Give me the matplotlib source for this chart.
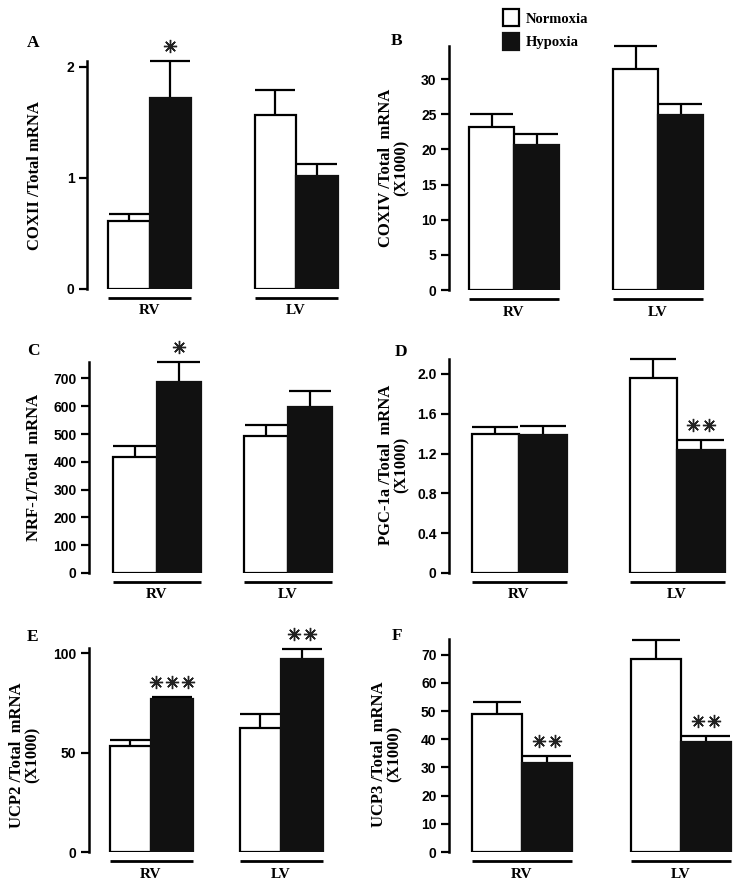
import numpy as np
import matplotlib
matplotlib.use("Agg")
import matplotlib.pyplot as plt
import matplotlib.transforms as mtransforms
from matplotlib.patches import Patch

# ----------------------------
# Data
# ----------------------------
groups = ['RV', 'LV']
panel_letters = ['A', 'B', 'C', 'D', 'E', 'F']

ylabels = [
    'COXII /Total mRNA',
    'COXIV /Total  mRNA\n(X1000)',
    'NRF-1/Total  mRNA',
    'PGC-1a /Total  mRNA\n(X1000)',
    'UCP2 /Total  mRNA\n(X1000)',
    'UCP3 /Total  mRNA\n(X1000)',
]

# normoxia / hypoxia means and error (RV, LV)
coxii_norm = [0.61, 1.56]
coxii_norm_err = [0.066, 0.23]
coxii_hyp = [1.715, 1.02]
coxii_hyp_err = [0.335, 0.10]

coxiv_norm = [23.2, 31.4]
coxiv_norm_err = [1.8, 3.25]
coxiv_hyp = [20.6, 24.9]
coxiv_hyp_err = [1.6, 1.6]

nrf1_norm = [419, 493]
nrf1_norm_err = [38, 40]
nrf1_hyp = [687, 596]
nrf1_hyp_err = [72, 58]

pgc1a_norm = [1.393, 1.963]
pgc1a_norm_err = [0.073, 0.185]
pgc1a_hyp = [1.386, 1.232]
pgc1a_hyp_err = [0.091, 0.104]

ucp2_norm = [53.3, 62.5]
ucp2_norm_err = [3.3, 6.9]
ucp2_hyp = [76.8, 97.1]
ucp2_hyp_err = [1.4, 5.1]

ucp3_norm = [48.95, 68.5]
ucp3_norm_err = [4.45, 6.8]
ucp3_hyp = [31.7, 39.0]
ucp3_hyp_err = [2.2, 2.3]

# significance marks on the hypoxia bars (RV, LV)
coxii_sig = [1, 0]
coxiv_sig = [0, 0]
nrf1_sig = [1, 0]
pgc1a_sig = [0, 2]
ucp2_sig = [3, 2]
ucp3_sig = [2, 2]

yticks = [
    [0, 1, 2],
    [0, 5, 10, 15, 20, 25, 30],
    [0, 100, 200, 300, 400, 500, 600, 700],
    [0, 0.4, 0.8, 1.2, 1.6, 2.0],
    [0, 50, 100],
    [0, 10, 20, 30, 40, 50, 60, 70],
]
ytick_labels = [
    ['0', '1', '2'],
    ['0', '5', '10', '15', '20', '25', '30'],
    ['0', '100', '200', '300', '400', '500', '600', '700'],
    ['0', '0.4', '0.8', '1.2', '1.6', '2.0'],
    ['0', '50', '100'],
    ['0', '10', '20', '30', '40', '50', '60', '70'],
]

panels = [
    (coxii_norm, coxii_norm_err, coxii_hyp, coxii_hyp_err, coxii_sig),
    (coxiv_norm, coxiv_norm_err, coxiv_hyp, coxiv_hyp_err, coxiv_sig),
    (nrf1_norm, nrf1_norm_err, nrf1_hyp, nrf1_hyp_err, nrf1_sig),
    (pgc1a_norm, pgc1a_norm_err, pgc1a_hyp, pgc1a_hyp_err, pgc1a_sig),
    (ucp2_norm, ucp2_norm_err, ucp2_hyp, ucp2_hyp_err, ucp2_sig),
    (ucp3_norm, ucp3_norm_err, ucp3_hyp, ucp3_hyp_err, ucp3_sig),
]

# ----------------------------
# Layout (pixels, origin top-left)
# spine x, baseline y, spine top y, y max, group centre offsets, bar width
# ----------------------------
W, H = 739, 890
layout = [
    dict(sx=87, y0=289, yt=61, ymax=2.05, centers=[62.5, 209], bw=41.5, letter=(33, 43), lab=(35, 176)),
    dict(sx=449, y0=290, yt=46, ymax=34.7, centers=[65, 209], bw=45, letter=(397, 41), lab=(394, 168)),
    dict(sx=89, y0=573, yt=362, ymax=759, centers=[67.5, 199], bw=44, letter=(33, 351), lab=(34, 467)),
    dict(sx=449, y0=573, yt=359, ymax=2.15, centers=[70, 228], bw=47.5, letter=(401, 352), lab=(394, 465)),
    dict(sx=89, y0=852, yt=648, ymax=102.7, centers=[62, 192], bw=41.5, letter=(33, 637), lab=(25, 755)),
    dict(sx=449, y0=852, yt=639, ymax=75.6, centers=[73, 232], bw=50, letter=(397, 636), lab=(387, 754)),
]

serif = 'Liberation Serif'
sans = 'Liberation Sans'
LW = 1.6

fig = plt.figure(figsize=(W / 100, H / 100), dpi=100)

for i, (lay, data) in enumerate(zip(layout, panels)):
    norm, norm_err, hyp, hyp_err, sig = data
    aw = 290
    ax = fig.add_axes([lay['sx'] / W, 1 - lay['y0'] / H, aw / W, (lay['y0'] - lay['yt']) / H])
    ax.set_xlim(0, aw)
    ax.set_ylim(0, lay['ymax'])

    c = np.array(lay['centers'])
    bw = lay['bw']
    xn = c - bw / 2
    xh = c + bw / 2

    ax.bar(xn, norm, width=bw, color='white', edgecolor='black', linewidth=LW, zorder=2)
    ax.bar(xh, hyp, width=bw, color='#111111', edgecolor='#111111', linewidth=LW, zorder=2)

    # upper error bars only
    for x, v, e in list(zip(xn, norm, norm_err)) + list(zip(xh, hyp, hyp_err)):
        ax.vlines(x, v, v + e, color='black', linewidth=LW, zorder=1, clip_on=False)
        ax.hlines(v + e, x - bw * 0.48, x + bw * 0.48, color='black', linewidth=LW, clip_on=False)

    # significance asterisks
    star_tr = mtransforms.offset_copy(ax.transData, fig=fig, y=15, units='dots')
    for x, v, e, n in zip(xh, hyp, hyp_err, sig):
        for k in range(n):
            ax.plot(x + (k - (n - 1) / 2) * 16, v + e, marker=(8, 2, 0), markersize=9.5,
                    markeredgewidth=1.0, color='#222222', transform=star_tr, clip_on=False)

    # group underline and labels
    line_tr = mtransforms.offset_copy(ax.transData, fig=fig, y=-9, units='dots')
    text_tr = mtransforms.offset_copy(ax.transData, fig=fig, y=-22, units='dots')
    for cx, g in zip(c, groups):
        ax.plot([cx - bw, cx + bw], [0, 0], color='black', linewidth=2.0,
                transform=line_tr, clip_on=False, solid_capstyle='butt')
        ax.text(cx, 0, g, transform=text_tr, ha='center', va='center',
                fontfamily=serif, fontweight='bold', fontsize=11)

    for s in ['top', 'right', 'bottom']:
        ax.spines[s].set_visible(False)
    ax.spines['left'].set_linewidth(LW + 0.2)
    ax.set_xticks([])
    ax.set_yticks(yticks[i])
    ax.set_yticklabels(ytick_labels[i], fontfamily=sans, fontweight='bold', fontsize=10)
    ax.tick_params(axis='y', direction='out', length=6, width=LW, pad=3)

    fig.text(lay['letter'][0] / W, 1 - lay['letter'][1] / H, panel_letters[i],
             ha='center', va='center', fontfamily=serif, fontweight='bold', fontsize=12.5)
    fig.text(lay['lab'][0] / W, 1 - lay['lab'][1] / H, ylabels[i], rotation=90,
             ha='center', va='center', multialignment='center', linespacing=1.0,
             fontfamily=serif, fontweight='bold', fontsize=12)

# legend
handles = [Patch(facecolor='white', edgecolor='black', linewidth=LW),
           Patch(facecolor='#111111', edgecolor='#111111', linewidth=LW)]
fig.legend(handles, ['Normoxia', 'Hypoxia'], loc='upper left',
           bbox_to_anchor=(496 / W, 1 - 2 / H), frameon=False,
           prop=dict(family=serif, weight='bold', size=10.5),
           handlelength=1.1, handleheight=1.4, handletextpad=0.45,
           labelspacing=0.45, borderpad=0.3, borderaxespad=0.2)

fig.savefig('out.png', dpi=100)
